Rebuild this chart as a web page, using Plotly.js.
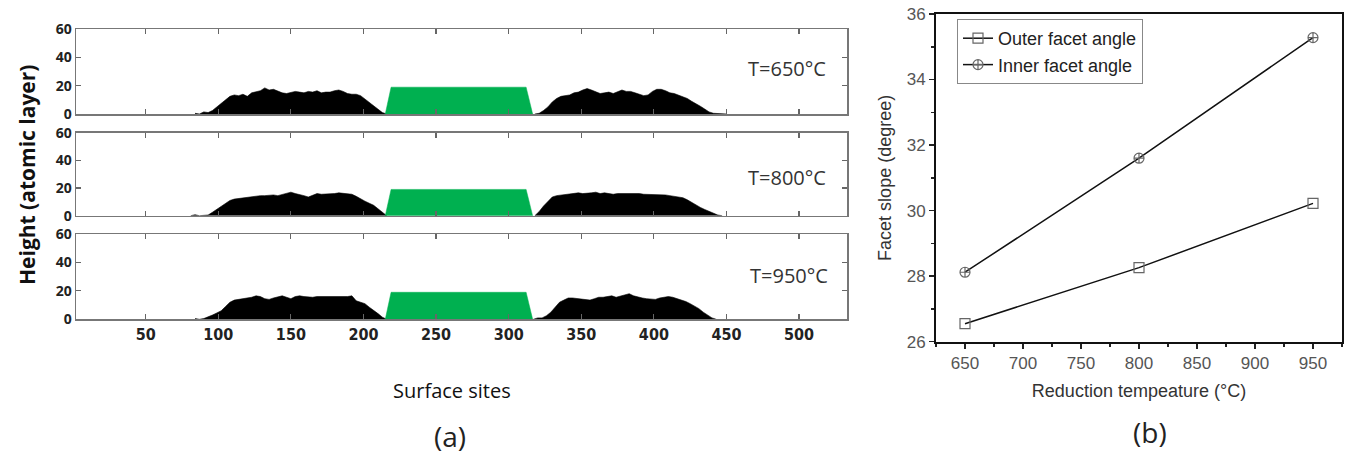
<!DOCTYPE html>
<html>
<head>
<meta charset="utf-8">
<script src="https://cdn.plot.ly/plotly-3.0.1.min.js"></script>
<style>html,body{margin:0;padding:0;background:#fff;}#chart{width:1347px;height:454px;}</style>
</head>
<body>
<div id="chart"></div>
<script>
// ---------- Panel (a): surface height profiles ----------
const siteStep = 3;
// T = 650 °C
const p650LeftStart = 84;
const p650Left = [0.5,0,1.5,1,2.5,5,8,10.5,12.5,13.5,13,14,12.5,15,16,16.5,18.5,17,17.5,16,15,14.5,15,16,15.5,15,16,15.5,16.5,15,15.5,15.5,16.5,17,16,14.5,14,14,13,10.5,8,5.5,3,1,0];
const p650RightStart = 318;
const p650Right = [0,0.5,2.5,5,8.5,11,12.5,13,13.5,15,15.5,17,18,17,16,14.5,15,15.5,14.5,16,17,16,16,15,14,13,13.5,16,17.5,17.5,16.5,15,14.5,13.5,12.5,11,9,7.5,5.5,3.5,1.5,0.5,0.5,0.5,0];
// T = 800 °C
const p800LeftStart = 81;
const p800Left = [0,0.7,0,0,0.5,2.5,4.5,7,9,11,12,12.5,13,13.5,13.5,14,14.5,14.5,15,15,14.5,15.5,16,17,16,15.5,14.5,13.5,14.5,16,15.5,15.5,16,16,16.5,16,16,15.5,14,12,10.5,9,7.5,5,2.5,0];
const p800RightStart = 318;
const p800Right = [0,3,7,10.5,13.5,14.5,15,15.5,15.5,16,16.5,16,16,16.5,17,16,16.5,16,15.5,16,16,16,16.5,16.5,16,15.5,15.5,15.5,15.5,15,15,14.5,14,13.5,13,11.5,9.5,7.5,6,4.5,3,1.5,0.5,0];
// T = 950 °C
const p950LeftStart = 84;
const p950Left = [0.5,0,0.5,1.5,3,4.5,6,9,12,13.5,14,14.5,14.5,15.5,16.5,16,14.5,14,15,15.5,16.5,15.5,14.5,16,16.5,16,15.5,15.5,16,16,15.5,15.5,16,16,16,16,16.5,13,12,11,8.5,6.5,4,1.5,0];
const p950RightStart = 317;
const p950Right = [0,1,1,2.5,5,8.5,12,13.5,15,15,14.5,14,13.5,13.5,14.5,15.5,15.5,16,16.5,15.5,16.5,17.5,18,16.5,15.5,15,14.5,14,14,15,15.5,16,15.5,14.5,14,12.5,11,9.5,7.5,5,3,1,0];
// central mesa (green)
const mesaSites = [215, 219, 312, 316.5, 215];
const mesaHeights = [0, 19, 19, 0, 0];
const tempLabels = ["T=650°C", "T=800°C", "T=950°C"];

// ---------- Panel (b): facet slopes ----------
const reductionTemps = [650, 800, 950];
const outerFacet = [26.55, 28.26, 30.22];
const innerFacet = [28.12, 31.6, 35.28];

function sites(start, arr){ return arr.map((_, i) => start + i * siteStep); }

const W = 1347, H = 454;
const px = v => v / W;
const py = v => 1 - v / H;

const panels = [
  {L: p650Left, Ls: p650LeftStart, R: p650Right, Rs: p650RightStart, xa: 'x', ya: 'y'},
  {L: p800Left, Ls: p800LeftStart, R: p800Right, Rs: p800RightStart, xa: 'x2', ya: 'y2'},
  {L: p950Left, Ls: p950LeftStart, R: p950Right, Rs: p950RightStart, xa: 'x3', ya: 'y3'}
];

const traces = [];
panels.forEach(p => {
  traces.push({x: sites(p.Ls, p.L), y: p.L, xaxis: p.xa, yaxis: p.ya, type: 'scatter', mode: 'lines',
    fill: 'tozeroy', fillcolor: '#000', line: {color: '#000', width: 0.6}, showlegend: false, hoverinfo: 'skip'});
  traces.push({x: sites(p.Rs, p.R), y: p.R, xaxis: p.xa, yaxis: p.ya, type: 'scatter', mode: 'lines',
    fill: 'tozeroy', fillcolor: '#000', line: {color: '#000', width: 0.6}, showlegend: false, hoverinfo: 'skip'});
  traces.push({x: mesaSites, y: mesaHeights, xaxis: p.xa, yaxis: p.ya, type: 'scatter', mode: 'lines',
    fill: 'toself', fillcolor: '#00b050', line: {color: '#00b050', width: 0.5}, showlegend: false, hoverinfo: 'skip'});
});

traces.push({x: reductionTemps, y: outerFacet, xaxis: 'x4', yaxis: 'y4', type: 'scatter', mode: 'lines+markers',
  name: 'Outer facet angle', line: {color: '#111', width: 1.5},
  marker: {symbol: 'square-open', size: 10, color: '#666', line: {width: 1.2}}});
traces.push({x: reductionTemps, y: innerFacet, xaxis: 'x4', yaxis: 'y4', type: 'scatter', mode: 'lines+markers',
  name: 'Inner facet angle', line: {color: '#111', width: 1.5},
  marker: {symbol: 'circle-cross-open', size: 10, color: '#666', line: {width: 1.2}}});

const leftX = [px(76), px(847)];
const leftTickFont = {family: 'Open Sans, sans-serif', size: 14, color: '#222', weight: 'bold'};
function leftXAxis(showLabels, anchor){
  return {domain: leftX, anchor: anchor, range: [2, 533], tickmode: 'linear', tick0: 50, dtick: 50,
    ticks: 'inside', ticklen: 5, tickcolor: '#666', tickwidth: 1.2,
    showline: true, linecolor: '#777', linewidth: 1.5, mirror: 'allticks',
    showgrid: false, zeroline: false, showticklabels: showLabels,
    tickfont: {family: 'DejaVu Sans Condensed, sans-serif', size: 16, color: '#222', weight: 'bold'}};
}
function leftYAxis(dom, anchor){
  return {domain: dom, anchor: anchor, range: [0, 60], tickvals: [0, 20, 40, 60],
    ticks: 'inside', ticklen: 5, tickcolor: '#666', tickwidth: 1.2,
    showline: true, linecolor: '#777', linewidth: 1.5, mirror: 'allticks',
    showgrid: false, zeroline: false, tickfont: leftTickFont};
}

const rightFont = 'Liberation Sans, Arial, sans-serif';
const rightTickFont = {family: rightFont, size: 17, color: '#555'};

const layout = {
  width: W, height: H,
  margin: {l: 0, r: 0, t: 0, b: 0},
  paper_bgcolor: '#fff', plot_bgcolor: '#fff',
  showlegend: true,
  legend: {x: px(957), y: py(19), xanchor: 'left', yanchor: 'top',
    bordercolor: '#888', borderwidth: 1, bgcolor: '#fff',
    font: {family: rightFont, size: 18, color: '#222'},
    tracegroupgap: 0, itemwidth: 30},
  xaxis: leftXAxis(false, 'y'),
  yaxis: leftYAxis([py(114), py(29.3)], 'x'),
  xaxis2: leftXAxis(false, 'y2'),
  yaxis2: leftYAxis([py(215.7), py(132.7)], 'x2'),
  xaxis3: leftXAxis(true, 'y3'),
  yaxis3: leftYAxis([py(319.3), py(234)], 'x3'),
  xaxis4: {domain: [px(936), px(1342)], anchor: 'y4', range: [625, 975], tickmode: 'linear', tick0: 650, dtick: 50,
    ticks: 'outside', ticklen: 5, tickcolor: '#222', tickwidth: 1.5,
    minor: {dtick: 25, ticks: 'outside', ticklen: 3, tickcolor: '#222'},
    showline: true, linecolor: '#111', linewidth: 2, mirror: true,
    showgrid: false, zeroline: false, tickfont: rightTickFont,
    title: {text: 'Reduction tempeature (°C)', font: {family: rightFont, size: 18, color: '#333'}, standoff: 12}},
  yaxis4: {domain: [py(341.7), py(14)], anchor: 'x4', range: [26, 36], tickmode: 'linear', tick0: 26, dtick: 2,
    ticks: 'outside', ticklen: 5, tickcolor: '#222', tickwidth: 1.5,
    minor: {dtick: 1, ticks: 'outside', ticklen: 3, tickcolor: '#222'},
    showline: true, linecolor: '#111', linewidth: 2, mirror: true,
    showgrid: false, zeroline: false, tickfont: rightTickFont,
    title: {text: 'Facet slope (degree)', font: {family: rightFont, size: 18, color: '#333'}, standoff: 10}},
  annotations: [
    {text: 'Height (atomic layer)', xref: 'paper', yref: 'paper', x: px(27), y: py(175), textangle: -90,
      showarrow: false, xanchor: 'center', yanchor: 'middle',
      font: {family: 'Open Sans, sans-serif', size: 21, color: '#111', weight: 'bold'}},
    {text: 'Surface sites', xref: 'paper', yref: 'paper', x: px(452), y: py(390), showarrow: false,
      xanchor: 'center', yanchor: 'middle', font: {family: 'Open Sans, sans-serif', size: 20, color: '#111'}},
    {text: '(a)', xref: 'paper', yref: 'paper', x: px(450), y: py(436), showarrow: false,
      xanchor: 'center', yanchor: 'middle', font: {family: 'Open Sans, sans-serif', size: 28, color: '#222'}},
    {text: '(b)', xref: 'paper', yref: 'paper', x: px(1150), y: py(432), showarrow: false,
      xanchor: 'center', yanchor: 'middle', font: {family: 'Open Sans, sans-serif', size: 28, color: '#222'}},
    {text: tempLabels[0], xref: 'paper', yref: 'paper', x: px(828), y: py(68), showarrow: false,
      xanchor: 'right', yanchor: 'middle', font: {family: 'Open Sans, sans-serif', size: 20, color: '#333'}},
    {text: tempLabels[1], xref: 'paper', yref: 'paper', x: px(828), y: py(178), showarrow: false,
      xanchor: 'right', yanchor: 'middle', font: {family: 'Open Sans, sans-serif', size: 20, color: '#333'}},
    {text: tempLabels[2], xref: 'paper', yref: 'paper', x: px(830), y: py(275), showarrow: false,
      xanchor: 'right', yanchor: 'middle', font: {family: 'Open Sans, sans-serif', size: 20, color: '#333'}}
  ]
};

Plotly.newPlot('chart', traces, layout, {staticPlot: true, displayModeBar: false});
</script>
</body>
</html>
